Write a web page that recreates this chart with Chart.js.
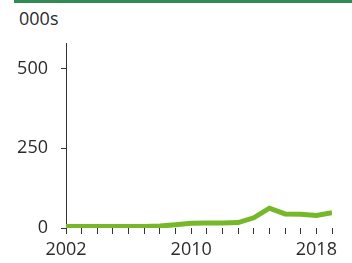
<!DOCTYPE html>
<html>
<head>
<meta charset="utf-8">
<script src="https://cdn.jsdelivr.net/npm/chart.js@4/dist/chart.umd.min.js"></script>
<style>
  html, body { margin: 0; padding: 0; background: #fff; }
  #wrap { position: relative; width: 352px; height: 263px; overflow: hidden; }
  #bar { position: absolute; left: 14px; top: 0; width: 338px; height: 3px; background: #338a55; }
  #unit { position: absolute; left: 19px; top: 6px; font: 18px "Open Sans", sans-serif; color: #2b2b2b; }
  #chart { position: absolute; left: 0; top: 0; }
</style>
</head>
<body>
<div id="wrap">
  <div id="bar"></div>
  <div id="unit">000s</div>
  <canvas id="chart" width="352" height="263"></canvas>
</div>
<script>
const years = [2002, 2003, 2004, 2005, 2006, 2007, 2008, 2009, 2010, 2011,
               2012, 2013, 2014, 2015, 2016, 2017, 2018, 2019];
const values = [5, 5, 5, 5, 5, 5, 6, 10, 15, 16, 16, 17, 32, 62, 44, 43, 39, 48];
const yTicks = [0, 250, 500];
const xLabels = [2002, 2010, 2018];

const textColor = '#2b2b2b';
const axisColor = '#333';

new Chart(document.getElementById('chart'), {
    type: 'line',
    data: {
        datasets: [{
            data: years.map((y, i) => ({ x: y, y: values[i] })),
            borderColor: '#76b82a',
            borderWidth: 5,
            pointRadius: 0,
            tension: 0,
            fill: false
        }]
    },
    options: {
        responsive: false,
        animation: false,
        layout: { padding: { left: 0, right: 20, top: 43, bottom: 0 } },
        plugins: { legend: { display: false }, tooltip: { enabled: false } },
        scales: {
            x: {
                type: 'linear',
                min: 2002,
                max: 2019,
                afterBuildTicks: s => { s.ticks = years.map(v => ({ value: v })); },
                afterFit: s => { s.height = 35; },
                ticks: {
                    autoSkip: false,
                    maxRotation: 0,
                    padding: 5,
                    color: textColor,
                    font: { family: 'Open Sans', size: 18 },
                    callback: v => xLabels.includes(v) ? String(v) : ''
                },
                grid: { drawOnChartArea: false, tickLength: 6, color: axisColor, lineWidth: 1 },
                border: { display: false }
            },
            y: {
                min: 0,
                max: 580,
                afterBuildTicks: s => { s.ticks = yTicks.map(v => ({ value: v })); },
                afterFit: s => { s.width = 66; },
                ticks: {
                    padding: 13,
                    color: textColor,
                    font: { family: 'Open Sans', size: 18 }
                },
                grid: { drawOnChartArea: false, tickLength: 5, color: axisColor, lineWidth: 1 },
                border: { display: true, color: axisColor, width: 1 }
            }
        }
    }
});
</script>
</body>
</html>
